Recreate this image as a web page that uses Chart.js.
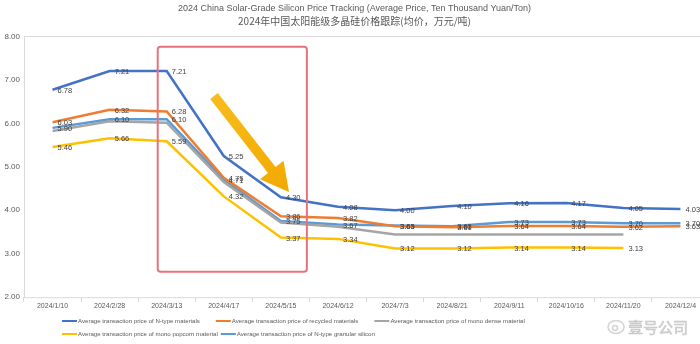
<!DOCTYPE html>
<html><head><meta charset="utf-8">
<script src="https://cdn.jsdelivr.net/npm/chart.js@4.4.1/dist/chart.umd.min.js"></script>
<style>
html,body{margin:0;padding:0;background:#fff;overflow:hidden;width:700px;height:344px}
#wrap{position:relative;width:712px;height:344px}
</style>
</head><body><div id="wrap"><canvas id="c"></canvas></div>
<script>
const categories = ['2024/1/10','2024/2/28','2024/3/13','2024/4/17','2024/5/15','2024/6/12','2024/7/3','2024/8/21','2024/9/11','2024/10/16','2024/11/20','2024/12/4'];
const nTypeMaterial     = [6.78,7.21,7.21,5.25,4.30,4.08,4.00,4.10,4.16,4.17,4.05,4.03];
const recycledMaterial  = [6.03,6.32,6.28,4.75,3.86,3.82,3.63,3.61,3.64,3.64,3.62,3.63];
const monoDenseMaterial = [5.83,6.05,6.02,4.65,3.72,3.62,3.44,3.44,3.44,3.44,3.44,null];
const monoPopcorn       = [5.46,5.66,5.59,4.32,3.37,3.34,3.12,3.12,3.14,3.14,3.13,null];
const nTypeGranular     = [5.90,6.10,6.10,4.71,3.75,3.67,3.65,3.63,3.73,3.73,3.70,3.70];
const seriesNames = [
  'Average transaction price of N-type materials',
  'Average transaction price of recycled materials',
  'Average transaction price of mono dense material',
  'Average transaction price of mono popcorn material',
  'Average transaction price of N-type granular silicon'
];
const yTickLabels = ['2.00','3.00','4.00','5.00','6.00','7.00','8.00'];
const titleLine1 = '2024 China Solar-Grade Silicon Price Tracking (Average Price, Ten Thousand Yuan/Ton)';
const titleLine2 = '2024年中国太阳能级多晶硅价格跟踪(均价，万元/吨)';
const watermark = '壹号公司';

const colors = ['#4472C4','#ED7D31','#A5A5A5','#FFC000','#5B9BD5'];
const showLabels = [true,true,false,true,true];
const TXT = '#595959';

const mctx = document.createElement('canvas').getContext('2d');
function w(font, s){ mctx.font = font; return mctx.measureText(s).width; }
const probe = 'Average transaction price of N-type materials';
const hasNarrow = w("20px 'Liberation Sans Narrow', monospace", probe) !== w('20px monospace', probe);
const legendFamily = hasNarrow ? "'Liberation Sans Narrow'" : "'Liberation Sans'";
const legendSize = 20 * 122 / w('20px ' + legendFamily, probe);

const frameAndDeco = {
  id: 'frameAndDeco',
  beforeDatasetsDraw(chart) {
    const {ctx, chartArea: a} = chart;
    ctx.save();
    ctx.strokeStyle = '#d9d9d9';
    ctx.lineWidth = 1;
    ctx.strokeRect(Math.round(a.left)+0.5, Math.round(a.top)-0.5, a.right - a.left, a.bottom - a.top + 1);
    ctx.restore();
  },
  afterDatasetsDraw(chart) {
    const {ctx} = chart;
    const xs = chart.scales.x, ys = chart.scales.y;
    ctx.save();
    ctx.font = "7.5px 'Liberation Sans'";
    ctx.fillStyle = '#404040';
    ctx.textAlign = 'left';
    ctx.textBaseline = 'middle';
    chart.data.datasets.forEach((ds, i) => {
      if (!showLabels[i]) return;
      const meta = chart.getDatasetMeta(i);
      meta.data.forEach((pt, j) => {
        const v = ds.data[j];
        if (v == null) return;
        ctx.fillText(v.toFixed(2), pt.x + 5, pt.y + 1);
      });
    });
    const bx0 = xs.getPixelForValue(2) - 9, bx1 = xs.getPixelForValue(4) + 26;
    const by0 = ys.getPixelForValue(7.77), by1 = ys.getPixelForValue(2.58);
    ctx.strokeStyle = '#E8727C';
    ctx.lineWidth = 2;
    ctx.beginPath();
    if (ctx.roundRect) ctx.roundRect(bx0, by0, bx1 - bx0, by1 - by0, 3); else ctx.rect(bx0, by0, bx1 - bx0, by1 - by0);
    ctx.stroke();
    const sx = 214, sy = 96, tx = 289, ty = 192;
    const ang = Math.atan2(ty - sy, tx - sx);
    const len = Math.hypot(tx - sx, ty - sy);
    const headLen = 28, shaft = 4.8, head = 15;
    ctx.translate(sx, sy);
    ctx.rotate(ang);
    const g = ctx.createLinearGradient(0, 0, len, 0);
    g.addColorStop(0, '#F8BC1C');
    g.addColorStop(1, '#F2A900');
    ctx.fillStyle = g;
    ctx.beginPath();
    ctx.moveTo(0, -shaft);
    ctx.lineTo(len - headLen, -shaft);
    ctx.lineTo(len - headLen, -head);
    ctx.lineTo(len, 0);
    ctx.lineTo(len - headLen, head);
    ctx.lineTo(len - headLen, shaft);
    ctx.lineTo(0, shaft);
    ctx.closePath();
    ctx.fill();
    ctx.restore();
  },
  afterDraw(chart) {
    const {ctx} = chart;
    ctx.save();
    const rows = [[0,1,2],[3,4]];
    const gaps = [16, 3];
    const rowY = [321, 334];
    ctx.font = legendSize.toFixed(2) + 'px ' + legendFamily;
    ctx.textAlign = 'left';
    ctx.textBaseline = 'middle';
    rows.forEach((r, ri) => {
      let x = 62;
      r.forEach((di) => {
        const y = rowY[ri];
        const label = chart.data.datasets[di].label;
        ctx.strokeStyle = colors[di];
        ctx.lineWidth = 2;
        ctx.beginPath(); ctx.moveTo(x, y); ctx.lineTo(x + 15, y); ctx.stroke();
        ctx.fillStyle = TXT;
        ctx.fillText(label, x + 16, y + 0.5);
        x += 16 + ctx.measureText(label).width + gaps[ri];
      });
    });
    ctx.globalAlpha = 0.75;
    ctx.strokeStyle = '#c4c4c4';
    ctx.lineWidth = 1.5;
    ctx.beginPath(); ctx.ellipse(616, 327, 8, 6.5, 0, 0, Math.PI * 2); ctx.stroke();
    ctx.beginPath(); ctx.arc(615, 328, 2.5, 0, Math.PI * 2); ctx.stroke();
    ctx.font = "15px 'Noto Sans CJK SC'";
    ctx.fillStyle = '#cfcfcf';
    ctx.strokeStyle = '#b8b8b8';
    ctx.lineWidth = 0.6;
    ctx.fillText(watermark, 628, 327);
    ctx.strokeText(watermark, 628, 327);
    ctx.restore();
  }
};

const datasets = [nTypeMaterial, recycledMaterial, monoDenseMaterial, monoPopcorn, nTypeGranular].map((d, i) => ({
  label: seriesNames[i],
  data: d,
  borderColor: colors[i],
  backgroundColor: colors[i],
  borderWidth: 2.5,
  pointRadius: 0,
  pointHoverRadius: 0,
  tension: 0,
  fill: false,
  spanGaps: false
}));

new Chart(document.getElementById('c'), {
  type: 'line',
  data: { labels: categories, datasets },
  options: {
    responsive: true,
    maintainAspectRatio: false,
    animation: false,
    events: [],
    layout: { padding: { left: 0, right: 3, top: 0, bottom: 30 } },
    plugins: {
      legend: { display: false },
      tooltip: { enabled: false },
      title: {
        display: true, text: titleLine1, color: TXT,
        font: { family: "'Liberation Sans'", size: 9, weight: 'normal', lineHeight: 1.2 },
        padding: { top: 3, bottom: 1 }
      },
      subtitle: {
        display: true, text: titleLine2, color: TXT,
        font: { family: "'Noto Sans CJK SC'", size: 10, weight: 'normal', lineHeight: 1.2 },
        padding: { top: 0, bottom: 10 }
      }
    },
    scales: {
      x: {
        type: 'category',
        offset: true,
        grid: { display: true, drawOnChartArea: false, drawTicks: true, tickLength: 5, offset: true, color: '#d9d9d9', lineWidth: 1 },
        border: { display: false },
        ticks: { color: TXT, font: { family: "'Liberation Sans'", size: 7 }, padding: 0, maxRotation: 0, autoSkip: false },
        afterFit(s) { s.height = 17; }
      },
      y: {
        min: 2, max: 8,
        grid: { display: false, drawTicks: false },
        border: { display: false },
        ticks: {
          stepSize: 1, color: TXT, padding: 4,
          font: { family: "'Liberation Sans'", size: 8 },
          callback: (v) => yTickLabels[Math.round(v - 2)]
        },
        afterFit(s) { s.width = 24; }
      }
    }
  },
  plugins: [frameAndDeco]
});
</script>
</body></html>
